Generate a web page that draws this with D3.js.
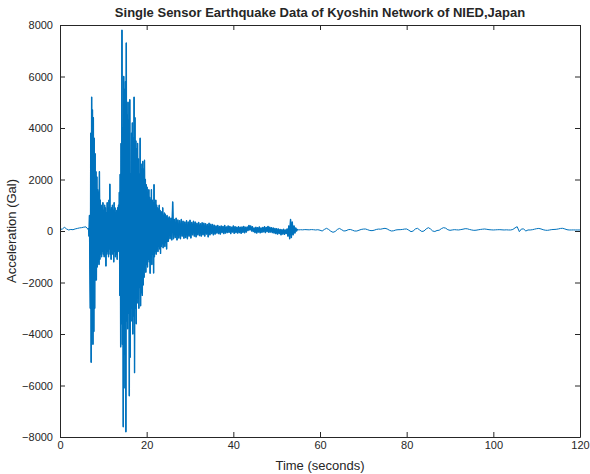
<!DOCTYPE html>
<html>
<head>
<meta charset="utf-8">
<script src="https://cdn.jsdelivr.net/npm/d3@7"></script>
<style>
  body { margin: 0; background: #fff; }
  text { font-family: "Liberation Sans", Arial, sans-serif; fill: #262626; }
</style>
</head>
<body>
<div id="plt"></div>
<script>
// acceleration samples (Gal)
var segStart = [0, 6.5, 25, 55];     // seconds
var segStep  = [0.5, 0.1, 0.2, 0.5]; // seconds between samples

var preEvent = [100, 60, 150, 80, 40, 60, 50, 80, 100, 120, 130, 150, 160];

var mainShock = [
  60, 100, -200, 600, -1500,
  -3000, 3800, -5100, 5200, -3800, 4700, -4400, 4400, -3900, 3600,
  -3000, 3000, -1900, 2300, -1900, 2100, -1400, 1600, -1200, 1500,
  -1300, 2300, -1100, 1200, -900, 1000, -1000, 900, -800, 1100,
  -900, 800, -1000, 1000, -700, 900, -1360, 700, -900, 1100,
  -800, 900, -1000, 1200, -700, 1820, -900, 800, -1100, 900,
  -700, 1000, -900, 800, -1200, 1100, -800, 900, -1000, 700,
  -900, 800, -1100, 900, -800, 1000, -700, 1500, -2500, 2200,
  -4500, 3400, -3600, 7800, -4400, 4000, -7600, 6000, -4800, 5500,
  -6100, 5800, -7800, 7300, -3500, 4500, -3800, 5000, -3200, 4300,
  -6400, 5100, -4900, 2200, -3500, 3800, -3000, 4200, -4000, 3600,
  -3300, 5200, -5500, 4400, -3000, 3500, -3600, 3200, -2800, 3400,
  -2600, 2800, -3000, 2200, -2200, 3600, -2900, 2600, -2400, 2400,
  -2500, 2700, -2100, 2400, -1800, 2750, -1500, 2000, -1600, 1800,
  -1300, 1700, -1400, 1500, -1100, 1600, -1200, 1300, -1640, 1200,
  -1000, 1600, -1300, 1200, -900, 1100, -1630, 1800, -1000, 1100,
  -800, 1200, -900, 1000, -700, 900, -800, 850, -600, 1000,
  -700, 800, -870, 700, -600, 750, -500, 900, -650, 600,
  -500, 700, -600, 650, -450, 550, -700, 600, -400, 500
];

var coda = [
  -400, 550, -300, 500, -350, 1130, -300, 450, -250, 500,
  -350, 430, -270, 400, -300, 450, -200, 380, -280, 350,
  -250, 400, -300, 350, -200, 420, -270, 330, -150, 380,
  -200, 350, -230, 300, -150, 330, -180, 280, -200, 320,
  -150, 300, -200, 280, -120, 250, -230, 300, -150, 260,
  -100, 250, -150, 230, -120, 200, -80, 220, -100, 180,
  -120, 200, -60, 180, -100, 220, -80, 160, -60, 200,
  -50, 180, -100, 150, -40, 200, -90, 170, -60, 150,
  -80, 170, -60, 150, -90, 160, -50, 180, -70, 150,
  -40, 160, 20, 220, 40, 200, 0, 170, -20, 120,
  -60, 150, -80, 130, -40, 160, -70, 120, -50, 140,
  -30, 170, -60, 140, -20, 180, -50, 150, -40, 130,
  -60, 120, -80, 100, -100, 90, -120, 80, -100, 60,
  -150, 50, -120, 70, -130, 40, -100, 80, -200, 200,
  -300, 450, -250, 350, -150, 200, -80, 120, 0, 80
];

var tail = [
  40, 50, 45, 55, 50, 45, 55, 50, 40, 50,
  30, 0, 60, 104, 60, -10, -50, -20, 60, 100,
  50, 0, 10, 50, 60, 30, 0, 0, 30, 60,
  75, 78, 50, 20, 13, 30, 60, 75, 70, 90,
  104, 80, 30, 0, 10, 40, 50, 52, 60, 75,
  78, 30, -26, 0, 80, 104, 40, -20, 0, 80,
  130, 80, 0, -20, 20, 30, 90, 130, 110, 50,
  26, 40, 52, 45, 40, 55, 70, 90, 85, 60,
  40, 26, 30, 45, 60, 70, 78, 65, 52, 45,
  40, 45, 50, 52, 45, 40, 45, 40, 39, 60,
  120, 168, -26, 80, 78, 0, 40, 39, 50, 70,
  90, 100, 80, 50, 30, 26, 40, 55, 60, 65,
  80, 100, 104, 80, 50, 39, 40, 42, 39, 40,
  39
];

var xTicks = [0, 20, 40, 60, 80, 100, 120];
var yTicks = [-8000, -6000, -4000, -2000, 0, 2000, 4000, 6000, 8000];

// build (time, value) pairs
var series = [preEvent, mainShock, coda, tail];
var data = [];
series.forEach(function(vals, s) {
  vals.forEach(function(v, i) {
    data.push({t: segStart[s] + i * segStep[s], a: v, seg: s});
  });
});

var W = 590, H = 474;
var margin = {top: 25, right: 10, bottom: 37, left: 60};
var width = W - margin.left - margin.right;
var height = H - margin.top - margin.bottom;

var svg = d3.select("#plt")
            .append("svg")
            .attr("width", W)
            .attr("height", H)
            .append("g")
            .attr("transform", "translate(" + margin.left + "," + margin.top + ")");

var x = d3.scaleLinear().domain([0, 120]).range([0, width]);
var y = d3.scaleLinear().domain([-8000, 8000]).range([height, 0]);

svg.append("clipPath").attr("id", "clip")
   .append("rect").attr("width", width).attr("height", height);

var line = d3.line()
  .x(function(d) { return x(d.t); })
  .y(function(d) { return y(d.a); });

// the trace, thin everywhere
svg.append("path")
   .datum(data)
   .attr("clip-path", "url(#clip)")
   .attr("fill", "none")
   .attr("stroke", "#0072BD")
   .attr("stroke-width", 1)
   .attr("stroke-linejoin", "round")
   .attr("d", line);

// heavier over the strong motion part so the dense samples read as solid
svg.append("path")
   .datum(data.filter(function(d) { return d.seg === 1 || d.seg === 2; }))
   .attr("clip-path", "url(#clip)")
   .attr("fill", "none")
   .attr("stroke", "#0072BD")
   .attr("stroke-width", 1.4)
   .attr("stroke-linejoin", "round")
   .attr("d", line);

// axes, ticks pointing inward on all four sides
function styleAxis(g) {
  g.selectAll("path").attr("stroke", "#262626");
  g.selectAll("line").attr("stroke", "#262626");
  g.selectAll("text").style("font-size", "11px").attr("fill", "#262626");
}

svg.append("g")
   .attr("transform", "translate(0," + height + ")")
   .call(d3.axisBottom(x).tickValues(xTicks).tickSizeInner(-5).tickSizeOuter(0)
           .tickPadding(4).tickFormat(d3.format("d")))
   .call(styleAxis);

svg.append("g")
   .call(d3.axisTop(x).tickValues(xTicks).tickSizeInner(-5).tickSizeOuter(0).tickFormat(""))
   .call(styleAxis);

svg.append("g")
   .call(d3.axisLeft(y).tickValues(yTicks).tickSizeInner(-5).tickSizeOuter(0)
           .tickPadding(7).tickFormat(d3.format("d")))
   .call(styleAxis);

svg.append("g")
   .attr("transform", "translate(" + width + ",0)")
   .call(d3.axisRight(y).tickValues(yTicks).tickSizeInner(-5).tickSizeOuter(0).tickFormat(""))
   .call(styleAxis);

// titles
svg.append("text")
   .attr("x", width / 2)
   .attr("y", -8)
   .attr("text-anchor", "middle")
   .style("font-size", "13px")
   .style("font-weight", "bold")
   .text("Single Sensor Earthquake Data of Kyoshin Network of NIED,Japan");

svg.append("text")
   .attr("x", width / 2)
   .attr("y", height + 33)
   .attr("text-anchor", "middle")
   .style("font-size", "13px")
   .text("Time (seconds)");

svg.append("text")
   .attr("transform", "translate(" + (-44) + "," + (height / 2) + ")rotate(-90)")
   .attr("text-anchor", "middle")
   .style("font-size", "13px")
   .text("Acceleration (Gal)");
</script>
</body>
</html>
